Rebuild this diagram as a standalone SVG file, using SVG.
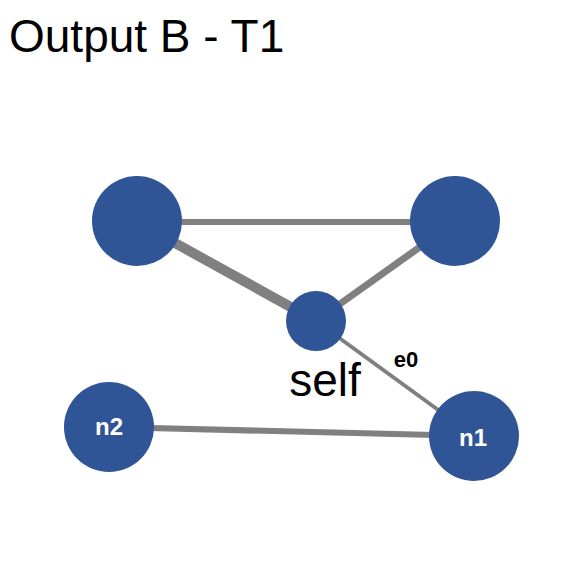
<svg xmlns="http://www.w3.org/2000/svg" width="567" height="567" viewBox="0 0 567 567">
<style>
.node{fill:#2F5597}
.edge{stroke:#808080;stroke-linecap:butt;fill:none}
.nl{font-family:"Liberation Sans",Arial,sans-serif;font-weight:bold;font-size:24px;fill:#fff;text-anchor:middle}
.title{font-family:"Liberation Sans",Arial,sans-serif;font-size:46px;fill:#000}
</style>
<rect width="567" height="567" fill="#fff"/>
<text class="title" x="9" y="52">Output B - T1</text>
<g id="connectors">
<line class="edge" x1="137" y1="222" x2="455" y2="222" stroke-width="6"/>
<line class="edge" x1="137" y1="222" x2="316" y2="321" stroke-width="10"/>
<line class="edge" x1="455" y1="222" x2="316" y2="321" stroke-width="7"/>
<line class="edge" x1="316" y1="321" x2="474" y2="436" stroke-width="4"/>
<line class="edge" x1="109" y1="427" x2="474" y2="436" stroke-width="6"/>
<text x="406" y="367" font-family="'Liberation Sans',Arial,sans-serif" font-weight="bold" font-size="22" text-anchor="middle" fill="#000">e0</text>
</g>
<g id="node-a"><circle class="node" cx="137" cy="221" r="45"/></g>
<g id="node-b"><circle class="node" cx="455" cy="221" r="45"/></g>
<g id="node-self"><circle class="node" cx="316" cy="321" r="30"/>
<text x="325" y="396" font-family="'Liberation Sans',Arial,sans-serif" font-size="46" text-anchor="middle" fill="#000">self</text></g>
<g id="node-n1"><circle class="node" cx="474" cy="436" r="45"/><text class="nl" x="473" y="446">n1</text></g>
<g id="node-n2"><circle class="node" cx="109" cy="427" r="45"/><text class="nl" x="109" y="435">n2</text></g>
</svg>
